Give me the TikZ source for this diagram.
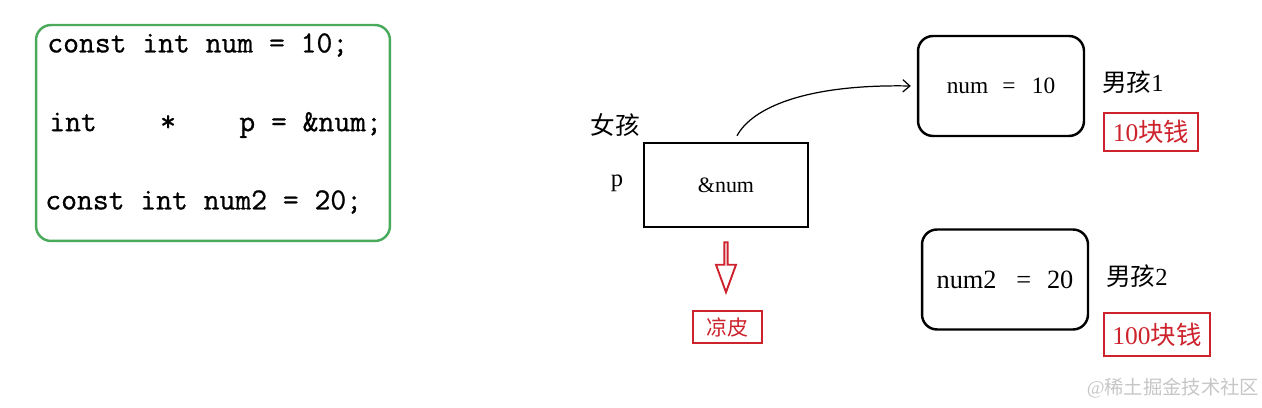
\documentclass[tikz,border=0pt]{standalone}
\usepackage{fontspec}
\setmainfont{Liberation Serif}
\setmonofont{Latin Modern Mono}[FakeBold=0.8]
\newfontfamily\cjk{Noto Sans CJK SC}
\usepackage{xcolor}
\usepackage{tikz}
\usetikzlibrary{arrows.meta}
\usetikzlibrary{shapes,arrows,positioning}
\definecolor{codegreen}{RGB}{72,170,90}
\definecolor{labelred}{RGB}{205,35,45}
\tikzset{code-box/.style={draw=codegreen, line width=1.4pt, rounded corners=0.3cm, minimum width=7.08cm, minimum height=4.32cm}}
\tikzset{code-line/.style={anchor=west, inner sep=0pt, font=\ttfamily\fontsize{17.5pt}{20pt}\selectfont}}
\tikzset{ptr-box/.style={draw, line width=1.4pt, minimum width=3.28cm, minimum height=1.68cm, font=\fontsize{12.5pt}{15pt}\selectfont}}
\tikzset{var-box/.style={draw, line width=1.4pt, rounded corners=0.3cm, minimum width=3.32cm, minimum height=2cm}}
\tikzset{name-label/.style={inner sep=0pt, font=\fontsize{14pt}{17pt}\selectfont}}
\tikzset{money-box/.style={draw=labelred, text=labelred, line width=1.1pt, inner sep=0pt, font=\fontsize{14.5pt}{17pt}\selectfont}}
\tikzset{hollow-arrow/.style={single arrow, draw=labelred, line width=1.1pt, shape border rotate=270, inner sep=0pt, minimum height=1cm, minimum width=0.4cm, single arrow head extend=0.1cm, single arrow tip angle=40}}
\tikzset{>={Straight Barb[length=4pt,width=7pt]}}

\begin{document}
\begin{tikzpicture}[x=0.02cm, y=-0.02cm]
    \useasboundingbox (0,0) rectangle (1262,408);

    % code on the left
    \node [code-box] (code) at (213,133) {};
    \node [code-line] (line-num) at (47,45) {const int num = 10;};
    \node [code-line] (line-ptr) at (49,125) {int~~~~*~~~~p = \&num;};
    \node [code-line] (line-num2) at (45,202) {const int num2 = 20;};

    % the pointer
    \node [ptr-box] (ptr) at (726,185) {\&num};
    \node [name-label] (ptr-name) at (617,183) {p};
    \node [name-label] (girl) at (615,125) {\cjk 女孩};

    % the two variables
    \node [var-box, font=\fontsize{13.3pt}{16pt}\selectfont] (num) at (1001,86) {num\hspace{0.6em}=\hspace{0.7em}10};
    \node [var-box, font=\fontsize{15pt}{18pt}\selectfont] (num2) at (1005,279.5) {num2\hspace{0.75em}=\hspace{0.6em}20};
    \node [name-label] (boy1) at (1133,82) {{\cjk 男孩}1};
    \node [name-label] (boy2) at (1137,276) {{\cjk 男孩}2};
    \node [money-box, minimum width=1.88cm, minimum height=0.76cm] (money1) at (1151,132) {10{\cjk 块钱}};
    \node [money-box, minimum width=2.12cm, minimum height=0.86cm] (money2) at (1157,334.5) {100{\cjk 块钱}};

    \draw [->, line width=0.7pt] ([shift={(0.22cm,0.12cm)}]ptr.north)
        .. controls (752,108) and (805,84) .. ([xshift=-0.12cm]num.west);

    % what the pointer gets
    \node [hollow-arrow] (cue) at (726,265) {};
    \node [money-box, minimum width=1.38cm, minimum height=0.64cm, font=\fontsize{12pt}{14pt}\selectfont] (snack) at (727.5,327) {\cjk 凉皮};

    \node [text=gray!45, font=\fontsize{11pt}{13pt}\selectfont] (mark) at (1173,388) {@{\cjk 稀土掘金技术社区}};
\end{tikzpicture}
\end{document}
